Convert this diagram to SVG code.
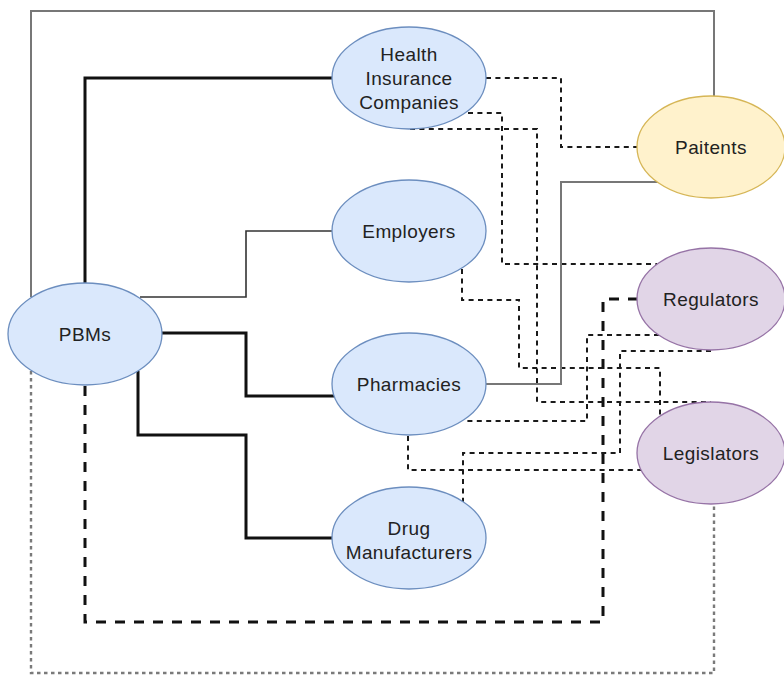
<svg xmlns="http://www.w3.org/2000/svg" width="784" height="675" viewBox="0 0 784 675">
<style>
.bg{fill:#ffffff}
.c{fill:none;stroke-linejoin:miter}
.gray{stroke:#777777;stroke-width:2}
.thick{stroke:#111111;stroke-width:3}
.thin{stroke:#333333;stroke-width:1.6}
.tdash{stroke:#111111;stroke-width:3;stroke-dasharray:10 9}
.dot{stroke:#7a7a7a;stroke-width:2.4;stroke-dasharray:3.5 3.5}
.dash{stroke:#1a1a1a;stroke-width:2;stroke-dasharray:5 4.4}
.blue{fill:#dae8fc;stroke:#6c8ebf;stroke-width:1.3}
.yellow{fill:#fff2cc;stroke:#d6b656;stroke-width:1.3}
.purple{fill:#e1d5e7;stroke:#9673a6;stroke-width:1.3}
text{font-family:"Liberation Sans",Arial,Helvetica,sans-serif;font-size:19px;letter-spacing:0.4px;fill:#222222;text-anchor:middle}
</style>
<rect class="bg" x="0" y="0" width="784" height="675"/>
<g id="connectors">
<path class="c gray" d="M31,297 V11 H714 V96"/>
<path class="c thick" d="M85,283 V78 H333"/>
<path class="c thin" d="M140,297 H246 V231 H333"/>
<path class="c thick" d="M162,333 H246 V396 H334"/>
<path class="c thick" d="M138,371 V435 H246 V538 H333"/>
<path class="c tdash" d="M85,386 V622 H603 V299 H638"/>
<path class="c dot" d="M31,371 V673 H714 V505"/>
<path class="c dash" d="M486,78 H561 V147 H638"/>
<path class="c dash" d="M410,129 H537 V402 H711"/>
<path class="c dash" d="M468,113 H502 V264 H657"/>
<path class="c dash" d="M462,269 V300 H519 V368 H660 V416"/>
<path class="c gray" d="M658,182 H561 V384 H486"/>
<path class="c dash" d="M659,335 H587 V421 H465"/>
<path class="c dash" d="M711,351 H620 V453 H463 V502"/>
<path class="c dash" d="M408,436 V470 H641"/>
</g>
<g id="hic"><ellipse class="blue" cx="409" cy="78" rx="77" ry="51"/><text x="409" y="61">Health</text><text x="409" y="85">Insurance</text><text x="409" y="109">Companies</text></g>
<g id="employers"><ellipse class="blue" cx="409" cy="231" rx="77" ry="51"/><text x="409" y="238">Employers</text></g>
<g id="pbms"><ellipse class="blue" cx="85" cy="334" rx="77" ry="51"/><text x="85" y="341">PBMs</text></g>
<g id="pharmacies"><ellipse class="blue" cx="409" cy="384" rx="77" ry="51"/><text x="409" y="391">Pharmacies</text></g>
<g id="drug"><ellipse class="blue" cx="409" cy="538" rx="77" ry="51"/><text x="409" y="535">Drug</text><text x="409" y="559">Manufacturers</text></g>
<g id="patients"><ellipse class="yellow" cx="711" cy="147" rx="74" ry="51"/><text x="711" y="154">Paitents</text></g>
<g id="regulators"><ellipse class="purple" cx="711" cy="299" rx="74" ry="51"/><text x="711" y="306">Regulators</text></g>
<g id="legislators"><ellipse class="purple" cx="711" cy="453" rx="74" ry="51"/><text x="711" y="460">Legislators</text></g>
</svg>
